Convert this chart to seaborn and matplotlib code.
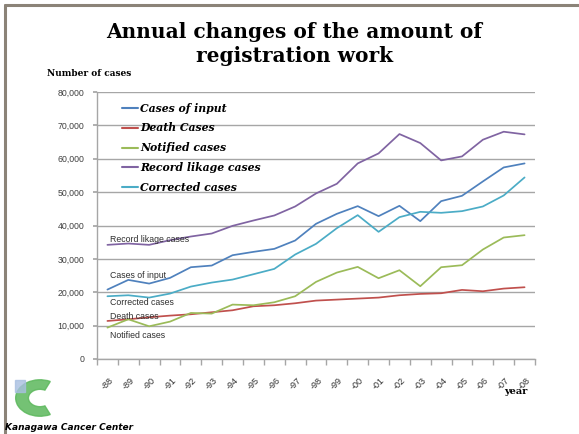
"""
Annual changes of the amount of registration work (Kanagawa Cancer Center)
"""

import numpy as np
import pandas as pd
import matplotlib
matplotlib.use("Agg")
import matplotlib.pyplot as plt
import matplotlib.patches as mpatches
from matplotlib.lines import Line2D
import seaborn as sns

# Data
years = ['-88', '-89', '-90', '-91', '-92', '-93', '-94', '-95', '-96', '-97', '-98',
         '-99', '-00', '-01', '-02', '-03', '-04', '-05', '-06', '-07', '-08']
cases_of_input = [20800, 23700, 22600, 24300, 27500, 28000, 31100, 32100, 33000, 35500, 40500,
                  43500, 45800, 42800, 45900, 41300, 47300, 48900, 53200, 57400, 58600]
death_cases = [11400, 11900, 12500, 13000, 13400, 14000, 14600, 15800, 16100, 16700, 17500,
               17800, 18100, 18400, 19100, 19500, 19700, 20700, 20300, 21100, 21500]
notified_cases = [9400, 11900, 9800, 11200, 13800, 13600, 16300, 16100, 17000, 18800, 23100,
                  25900, 27600, 24200, 26600, 21800, 27500, 28100, 32800, 36400, 37100]
record_likage_cases = [34200, 34600, 34200, 35600, 36700, 37600, 39900, 41500, 43000, 45700, 49600,
                       52500, 58600, 61600, 67400, 64700, 59500, 60700, 65700, 68100, 67300]
corrected_cases = [18800, 19100, 18400, 19600, 21700, 22900, 23800, 25400, 27000, 31300, 34500,
                   39200, 43100, 38100, 42500, 44100, 43800, 44300, 45700, 49000, 54400]

series_names = ['Cases of input', 'Death Cases', 'Notified cases',
                'Record likage cases', 'Corrected cases']
series_colors = ['#4F81BD', '#C0504D', '#9BBB59', '#8064A2', '#4BACC6']

# Inline labels drawn next to the first point of each line
inline_labels = ['Record likage cases', 'Cases of input', 'Corrected cases',
                 'Death cases', 'Notified cases']
inline_values = [35900, 24900, 16800, 12600, 6900]

# Long-form table for seaborn
idx = np.arange(len(years))
df = pd.concat([
    pd.DataFrame({'pos': idx, 'value': vals, 'series': name})
    for name, vals in zip(series_names,
                          [cases_of_input, death_cases, notified_cases,
                           record_likage_cases, corrected_cases])
])

sns.set_theme(style="white")
plt.rcParams['font.family'] = ['DejaVu Sans']

fig = plt.figure(figsize=(5.79, 4.34), dpi=100)
ax = fig.add_axes([97 / 579, 1 - 359 / 434, 438 / 579, 267 / 434])

sns.lineplot(data=df, x='pos', y='value', hue='series', hue_order=series_names,
             palette=series_colors, linewidth=1.25, legend=False, ax=ax)

# Axes styling (Excel-like)
ax.set_xlim(-0.5, len(years) - 0.5)
ax.set_ylim(0, 80000)
ax.set_yticks(np.arange(0, 80001, 10000))
ax.set_yticklabels([f"{v:,}" for v in range(0, 80001, 10000)], fontsize=6.3, color='#404040',
                   family='Liberation Sans')
ax.yaxis.grid(True, color='#a6a6a6', linewidth=1)
ax.set_axisbelow(True)
ax.tick_params(axis='y', length=3, color='#a6a6a6', pad=6, left=True)
for s in ['top', 'right']:
    ax.spines[s].set_visible(False)
for s in ['left', 'bottom']:
    ax.spines[s].set_color('#a6a6a6')
    ax.spines[s].set_linewidth(1)

ax.set_xticks(idx)
ax.set_xticklabels(years, rotation=45, ha='center', va='top', fontsize=6.5, color='#303030',
                   family='Liberation Sans')
ax.set_xticks(np.arange(-0.5, len(years), 1), minor=True)
ax.tick_params(axis='x', which='major', length=0, pad=12)
ax.tick_params(axis='x', which='minor', length=4, color='#a6a6a6', bottom=True)
ax.set_xlabel('')
ax.set_ylabel('')

# Legend in the upper-left of the plot
handles = [Line2D([0], [0], color=c, lw=1.5) for c in series_colors]
ax.legend(handles, series_names, loc='upper left', bbox_to_anchor=(0.035, 0.997),
          frameon=False, handlelength=1.5, handletextpad=0.15, labelspacing=0.82,
          labelcolor='black',
          prop={'family': 'DejaVu Serif', 'weight': 'heavy', 'style': 'italic', 'size': 7.8})

# Inline series labels
for text, yv in zip(inline_labels, inline_values):
    ax.text(0.1, yv, text, fontsize=6.3, color='#303030', family='Liberation Sans',
            va='center', ha='left')

# Titles and annotations
fig.text(0.508, 1 - 44.5 / 434, 'Annual changes of the amount of\nregistration work',
         ha='center', va='center', fontsize=14.5, fontweight='heavy', color='black',
         family='DejaVu Serif', linespacing=1.25)
fig.text(47 / 579, 1 - 73 / 434, 'Number of cases', fontsize=6.5, fontweight='bold',
         color='black', family='DejaVu Serif', va='center', ha='left')
fig.text(527 / 579, 1 - 392 / 434, 'year', fontsize=7, fontweight='bold', color='black',
         family='DejaVu Serif', va='center', ha='right')
fig.text(5 / 579, 1 - 428 / 434, 'Kanagawa Cancer Center', fontsize=6.5, fontweight='bold',
         style='italic', color='black', family='DejaVu Sans', va='center', ha='left')

# Simple logo: green crescent with a small coloured patch
logo = mpatches.Wedge((40 / 579, 1 - 398 / 434), 0.042, 65, 295, width=0.022,
                      transform=fig.transFigure, color='#5cb85c', alpha=0.85)
fig.patches.append(logo)
fig.patches.append(mpatches.Rectangle((15 / 579, 1 - 392 / 434), 10 / 579, 12 / 434,
                                      transform=fig.transFigure, color='#a8bfe0', alpha=0.8))

# Outer frame on the left and top
fig.add_artist(Line2D([4.5 / 579, 4.5 / 579], [0, 1 - 4.5 / 434], color='#8b8378', lw=2.2,
                      transform=fig.transFigure))
fig.add_artist(Line2D([4.5 / 579, 1], [1 - 4.5 / 434, 1 - 4.5 / 434], color='#8b8378', lw=2.2,
                      transform=fig.transFigure))

fig.savefig('out.png', dpi=100)
plt.close(fig)
